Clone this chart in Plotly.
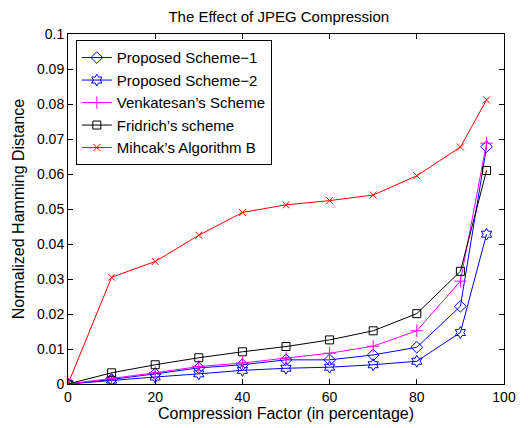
import plotly.graph_objects as go

# Compression factor (percentage)
compression = [0, 10, 20, 30, 40, 50, 60, 70, 80, 90, 96]

# Normalized Hamming distance per method
scheme1 = [0, 0.0013, 0.0029, 0.0046, 0.0055, 0.0069, 0.0069, 0.0083, 0.0105, 0.0222, 0.0678]
scheme2 = [0, 0.0011, 0.0020, 0.0029, 0.0039, 0.0045, 0.0048, 0.0055, 0.0065, 0.0147, 0.0428]
venkatesan = [0, 0.0015, 0.0032, 0.0050, 0.0060, 0.0074, 0.0088, 0.0108, 0.0152, 0.0294, 0.0688]
fridrich = [0, 0.0032, 0.0055, 0.0075, 0.0092, 0.0107, 0.0126, 0.0152, 0.0201, 0.0322, 0.0610]
mihcak = [0, 0.0305, 0.0350, 0.0425, 0.0490, 0.0512, 0.0524, 0.0540, 0.0595, 0.0677, 0.0812]

series = [
    ("Proposed Scheme\u22121", scheme1, "#0000ff", "diamond-open", 9),
    ("Proposed Scheme\u22122", scheme2, "#0000ff", "hexagram-open", 9),
    ("Venkatesan\u2019s Scheme", venkatesan, "#ff00ff", "cross-thin-open", 9),
    ("Fridrich\u2019s scheme", fridrich, "#000000", "square-open", 8),
    ("Mihcak\u2019s Algorithm B", mihcak, "#ff0000", "x-thin-open", 7),
]

fig = go.Figure()
for name, vals, color, symbol, size in series:
    fig.add_trace(go.Scatter(
        x=compression, y=vals, name=name, mode="lines+markers",
        line=dict(color=color, width=1),
        marker=dict(symbol=symbol, size=size, color=color,
                    line=dict(color=color, width=1)),
    ))

axis_common = dict(
    showline=True, linecolor="black", linewidth=1, mirror="ticks",
    ticks="inside", ticklen=5, tickcolor="black",
    showgrid=False, zeroline=False,
    tickfont=dict(size=14, color="black"),
)

fig.update_layout(
    width=528, height=428,
    margin=dict(l=68, r=12, t=34, b=41),
    paper_bgcolor="white", plot_bgcolor="white",
    font=dict(family="Liberation Sans, Arial, sans-serif", color="black"),
    title=dict(text="The Effect of JPEG Compression", x=0.528, xanchor="center",
               y=0.962, yanchor="middle", font=dict(size=15)),
    xaxis=dict(range=[0, 100], tickvals=[0, 20, 40, 60, 80, 100],
               title=dict(text="Compression Factor (in percentage)",
                          font=dict(size=16), standoff=0),
               **axis_common),
    yaxis=dict(range=[0, 0.1], tickvals=[i / 100 for i in range(11)],
               ticktext=["0"] + ["%g" % (i / 100) for i in range(1, 11)],
               title=dict(text="Normalized Hamming Distance",
                          font=dict(size=16), standoff=8),
               **axis_common),
    legend=dict(x=0.018, y=0.982, xanchor="left", yanchor="top",
                bgcolor="white", bordercolor="black", borderwidth=1,
                font=dict(size=15), tracegroupgap=0, itemsizing="trace"),
    showlegend=True,
)

fig.write_html("out.html")
